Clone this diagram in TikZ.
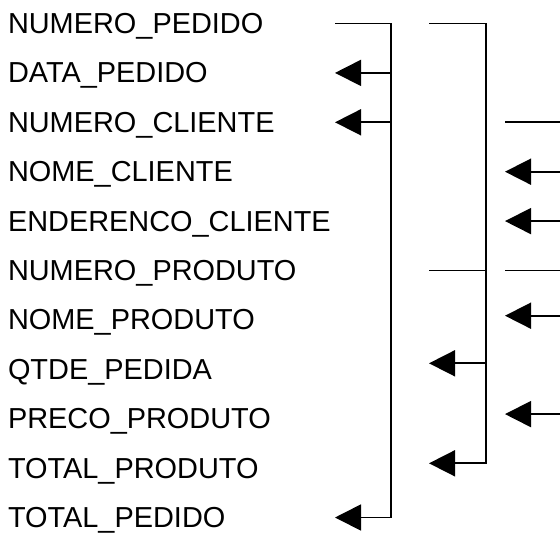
\documentclass[tikz,border=0pt]{standalone}
\usepackage{fontspec}
\setmainfont{Liberation Sans}
\usetikzlibrary{positioning,arrows.meta}

\begin{document}
\begin{tikzpicture}[
  x=0.5pt,y=-0.5pt,
  node distance=10.7pt,
  campo/.style={inner sep=0pt,outer sep=0pt,text height=12pt,text depth=2pt,
    font=\fontsize{14.45}{17}\selectfont},
  linha/.style={line width=0.85pt},
  seta/.style={linha,-{Triangle[length=13pt,width=13pt]}}
]
\useasboundingbox (0,0) rectangle (560,534);
% colunas das chaves
\coordinate (colA) at (335,0);
\coordinate (barA) at (391,0);
\coordinate (colB) at (429,0);
\coordinate (barB) at (486,0);
\coordinate (colC) at (505,0);
\coordinate (borda) at (560,0);
% campos
\node[campo,anchor=base west] (r1) at (8,33.5) {NUMERO\_PEDIDO};
\node[campo,below=of r1.south west,anchor=north west] (r2) {DATA\_PEDIDO};
\node[campo,below=of r2.south west,anchor=north west] (r3) {NUMERO\_CLIENTE};
\node[campo,below=of r3.south west,anchor=north west] (r4) {NOME\_CLIENTE};
\node[campo,below=of r4.south west,anchor=north west] (r5) {ENDERENCO\_CLIENTE};
\node[campo,below=of r5.south west,anchor=north west] (r6) {NUMERO\_PRODUTO};
\node[campo,below=of r6.south west,anchor=north west] (r7) {NOME\_PRODUTO};
\node[campo,below=of r7.south west,anchor=north west] (r8) {QTDE\_PEDIDA};
\node[campo,below=of r8.south west,anchor=north west] (r9) {PRECO\_PRODUTO};
\node[campo,below=of r9.south west,anchor=north west] (r10) {TOTAL\_PRODUTO};
\node[campo,below=of r10.south west,anchor=north west] (r11) {TOTAL\_PEDIDO};
% alturas das setas um pouco acima do texto
\coordinate (y7) at ([yshift=2.1pt]r7.center);
\coordinate (y8) at ([yshift=3pt]r8.center);
\coordinate (y9) at ([yshift=2.3pt]r9.center);
\coordinate (y10) at ([yshift=2.4pt]r10.center);
% chave do pedido
\draw[seta] (colA |- r1) -- (barA |- r1) -- (barA |- r11) -- (colA |- r11);
\draw[seta] (barA |- r2) -- (colA |- r2);
\draw[seta] (barA |- r3) -- (colA |- r3);
% chave do item
\draw[seta] (colB |- r1) -- (barB |- r1) -- (barB |- y10) -- (colB |- y10);
\draw[linha] (colB |- r6) -- (barB |- r6);
\draw[seta] (barB |- y8) -- (colB |- y8);
% cliente e produto
\draw[linha] (borda |- r3) -- (colC |- r3);
\draw[seta] (borda |- r4) -- (colC |- r4);
\draw[seta] (borda |- r5) -- (colC |- r5);
\draw[linha] (borda |- r6) -- (colC |- r6);
\draw[seta] (borda |- y7) -- (colC |- y7);
\draw[seta] (borda |- y9) -- (colC |- y9);
\end{tikzpicture}
\end{document}
